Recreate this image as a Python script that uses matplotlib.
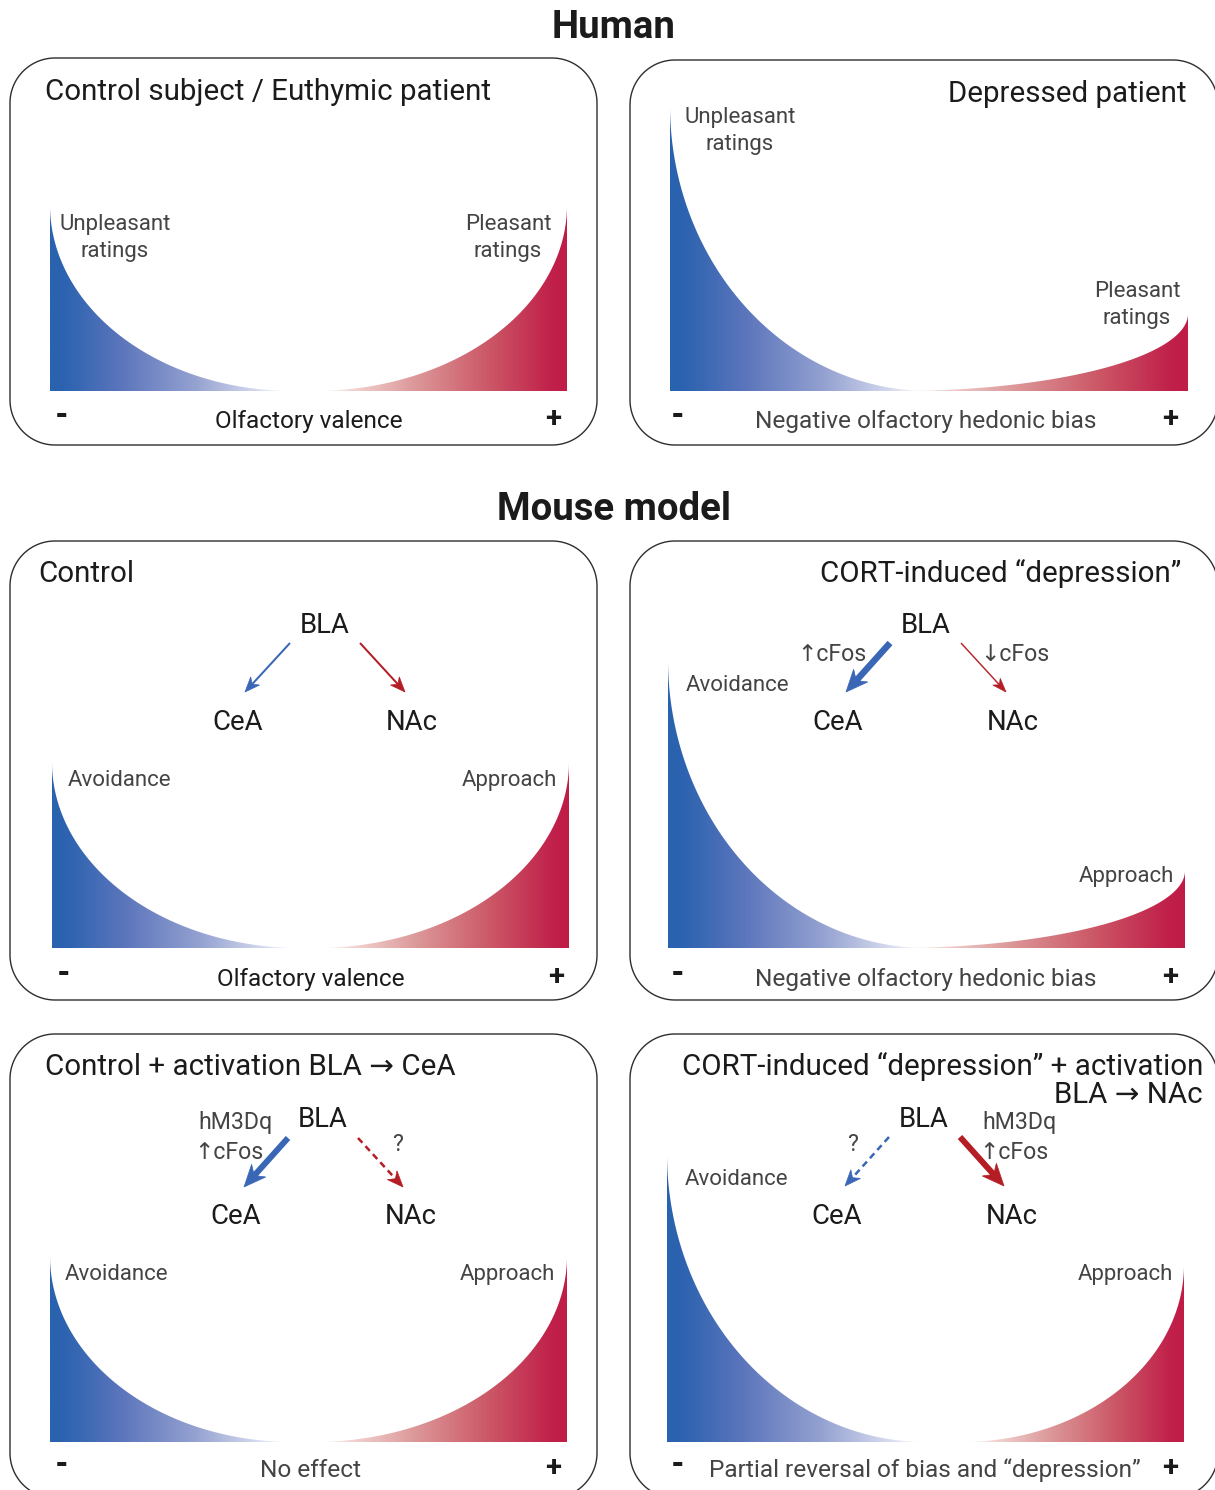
import numpy as np
import matplotlib
matplotlib.use("Agg")
import matplotlib.pyplot as plt
from matplotlib.patches import Polygon
from matplotlib.colors import LinearSegmentedColormap
from matplotlib import font_manager as fm

# ---------------- data ----------------
section_titles = ["Human", "Mouse model"]
panel_titles = ["Control subject / Euthymic patient", "Depressed patient",
                "Control", "CORT-induced \u201cdepression\u201d",
                "Control + activation BLA \u2192 CeA",
                "CORT-induced \u201cdepression\u201d + activation\nBLA \u2192 NAc"]
axis_labels = ["Olfactory valence", "Negative olfactory hedonic bias",
               "Olfactory valence", "Negative olfactory hedonic bias",
               "No effect", "Partial reversal of bias and \u201cdepression\u201d"]
left_labels = ["Unpleasant\nratings", "Unpleasant\nratings", "Avoidance", "Avoidance", "Avoidance", "Avoidance"]
right_labels = ["Pleasant\nratings", "Pleasant\nratings", "Approach", "Approach", "Approach", "Approach"]
# relative level of negative (left) and positive (right) responses, 1 = max
unpleasant_level = [0.65, 1.00, 0.65, 1.01, 0.65, 1.01]
pleasant_level = [0.65, 0.27, 0.65, 0.27, 0.65, 0.62]
# fraction of the valence axis over which each response extends
unpleasant_spread = [0.47, 0.50, 0.48, 0.50, 0.47, 0.50]
pleasant_spread = [0.49, 0.56, 0.49, 0.56, 0.49, 0.43]
regions = ["BLA", "CeA", "NAc"]

# ---------------- layout ----------------
W, H = 1215, 1490
fig = plt.figure(figsize=(W / 100, H / 100), dpi=100)
ax = fig.add_axes([0, 0, 1, 1])
ax.set_xlim(0, W)
ax.set_ylim(H, 0)
ax.axis("off")
renderer = fig.canvas.get_renderer()

names = {f.name for f in fm.fontManager.ttflist}
FONT = ["Roboto", "DejaVu Sans"] if "Roboto" in names else ["DejaVu Sans"]
NARROW = (["Liberation Sans Narrow", "DejaVu Sans"] if "Liberation Sans Narrow" in names else FONT)


def fit(s, width, **kw):
    t = ax.text(0, 0, s, fontsize=20, **kw)
    w = t.get_window_extent(renderer).width
    t.remove()
    return 20 * width / w


fs_head = fit("Mouse model", 234, family=FONT, fontweight="bold")
fs_title = fit("Control subject / Euthymic patient", 444, family=FONT)
fs_axis = fit("Olfactory valence", 188, family=FONT)
fs_axis_l = fit("Negative olfactory hedonic bias", 341, family=FONT)
fs_label = fit("Unpleasant", 111, family=FONT)
fs_region = fit("BLA", 50, family=NARROW)
fs_small = fit("hM3Dq", 74, family=FONT)

DARK = "#1b1b1b"
GREY = "#444444"

# section headers
ax.text(614, 38, section_titles[0], ha="center", va="baseline", fontsize=fs_head,
        family=FONT, fontweight="bold", color=DARK)
ax.text(614, 520, section_titles[1], ha="center", va="baseline", fontsize=fs_head,
        family=FONT, fontweight="bold", color=DARK)


def rounded_box(x0, y0, x1, y1, r):
    pts = []
    corners = [(x1 - r, y0 + r, -90, 0), (x1 - r, y1 - r, 0, 90),
               (x0 + r, y1 - r, 90, 180), (x0 + r, y0 + r, 180, 270)]
    for cx, cy, a0, a1 in corners:
        a = np.radians(np.linspace(a0, a1, 40))
        pts += list(zip(cx + r * np.cos(a), cy + r * np.sin(a)))
    ax.add_patch(Polygon(pts, closed=True, fc="none", ec="#2e2e2e", lw=1.0))


boxes = [(10, 58, 597, 445), (630, 60, 1218, 445),
         (10, 541, 597, 1000), (630, 541, 1218, 1000),
         (10, 1034, 597, 1498), (630, 1034, 1218, 1498)]
for b in boxes:
    rounded_box(*b, 45)

# curve areas: (x_left, x_right, baseline_y)
curve_areas = [(50, 567, 391), (670, 1188, 391),
               (52, 569, 948), (668, 1185, 948),
               (50, 567, 1442), (667, 1184, 1442)]
LEVEL_PX = 286

blue_cmap = LinearSegmentedColormap.from_list(
    "b", [(0, "#2962ae"), (0.06, "#2d63b0"), (0.3, "#5d76bc"), (0.6, "#95a2d1"),
          (0.85, "#d4d9ee"), (1.0, "#ffffff")])
red_cmap = LinearSegmentedColormap.from_list(
    "r", [(0, "#bf1c46"), (0.06, "#c0204a"), (0.3, "#cb5565"), (0.6, "#dc9798"),
          (0.85, "#f1d3d1"), (1.0, "#ffffff")])


def draw_curve(cax, level, spread, side):
    # quarter-ellipse response profile on valence axis [-1, 1]
    span = 2 * spread
    t = np.linspace(0, np.pi / 2, 200)
    u = 1 - np.cos(t)
    h = level * (1 - np.sin(t))
    if side == "left":
        xs = -1 + span * u
        x_lo, x_hi = -1, -1 + span
        cmap = blue_cmap
        grad = np.linspace(0, 1, 400)
    else:
        xs = 1 - span * u
        x_lo, x_hi = 1 - span, 1
        cmap = red_cmap
        grad = np.linspace(1, 0, 400)
    verts = list(zip(xs, h)) + [(xs[-1], 0), (xs[0], 0)]
    poly = Polygon(verts, closed=True, fc="none", ec="none")
    cax.add_patch(poly)
    img = cmap(grad)[None, :, :]
    im = cax.imshow(img, extent=(x_lo, x_hi, 0, level + 0.01), aspect="auto",
                    origin="lower", interpolation="bilinear")
    im.set_clip_path(poly)


for i, (xl, xr, base) in enumerate(curve_areas):
    cax = fig.add_axes([xl / W, (H - base) / H, (xr - xl) / W, LEVEL_PX * 1.05 / H])
    cax.set_xlim(-1, 1)
    cax.set_ylim(0, 1.05)
    cax.axis("off")
    draw_curve(cax, unpleasant_level[i], unpleasant_spread[i], "left")
    draw_curve(cax, pleasant_level[i], pleasant_spread[i], "right")


# ---------------- titles ----------------
def title(x, y, s, ha):
    ax.text(x, y, s, ha=ha, va="baseline", fontsize=fs_title, family=FONT, color=DARK)


title(45, 100, panel_titles[0], "left")
title(1187, 102, panel_titles[1], "right")
title(38, 582, panel_titles[2], "left")
title(1181, 582, panel_titles[3], "right")
title(45, 1075, panel_titles[4], "left")
l1, l2 = panel_titles[5].split("\n")
title(1203, 1075, l1, "right")
title(1203, 1103, l2, "right")

# ---------------- axis rows ----------------
axis_rows = [(62, 309, 553, 428), (678, 926, 1170, 428),
             (64, 311, 556, 986), (678, 926, 1170, 986),
             (62, 310, 553, 1477), (678, 925, 1170, 1477)]
for i, (xm, xc, xp, yb) in enumerate(axis_rows):
    light = i not in (0, 2)
    ax.text(xc, yb, axis_labels[i], ha="center", va="baseline",
            fontsize=fs_axis_l if light else fs_axis,
            family=FONT, color=GREY if light else DARK)
    ax.text(xm, yb - 3, "-", ha="center", va="baseline", fontsize=fs_axis * 1.25,
            family=FONT, fontweight="heavy", color=DARK)
    ax.text(xp, yb - 1, "+", ha="center", va="baseline", fontsize=fs_axis * 1.2,
            family=FONT, fontweight="bold", color=DARK)


# ---------------- curve labels ----------------
def label(x, y, s, ha):
    ax.text(x, y, s, ha=ha, va="baseline", fontsize=fs_label, family=FONT, color=GREY)


for k, line in enumerate(left_labels[0].split("\n")):
    label(115, 230 + 27 * k, line, "center")
for k, line in enumerate(right_labels[0].split("\n")):
    label(508, 230 + 27 * k, line, "center")
for k, line in enumerate(left_labels[1].split("\n")):
    label(740, 123 + 27 * k, line, "center")
for k, line in enumerate(right_labels[1].split("\n")):
    label(1137, 297 + 27 * k, line, "center")
label(68, 786, left_labels[2], "left")
label(557, 786, right_labels[2], "right")
label(686, 691, left_labels[3], "left")
label(1174, 882, right_labels[3], "right")
label(65, 1280, left_labels[4], "left")
label(555, 1280, right_labels[4], "right")
label(685, 1185, left_labels[5], "left")
label(1173, 1280, right_labels[5], "right")

# ---------------- circuit diagrams ----------------
BLUE = "#3a66b6"
RED = "#b51d25"


def region_text(x, y, s):
    ax.text(x, y, s, ha="center", va="baseline", fontsize=fs_region, family=NARROW, color=DARK)


def small(x, y, s):
    ax.text(x, y, s, ha="center", va="baseline", fontsize=fs_small, family=FONT, color=GREY)


def arrow(p0, p1, color, lw_px, head_len, head_w, dashed=False):
    p0 = np.array(p0, float)
    p1 = np.array(p1, float)
    d = (p1 - p0) / np.linalg.norm(p1 - p0)
    n = np.array([-d[1], d[0]])
    notch = p1 - d * head_len * 0.7
    base = p1 - d * head_len
    ls = (0, (2.6, 1.8)) if dashed else "-"
    ax.plot([p0[0], notch[0] + d[0]], [p0[1], notch[1] + d[1]], color=color,
            lw=lw_px / 1.389, ls=ls, solid_capstyle="butt", dash_capstyle="butt")
    ax.add_patch(Polygon([p1, base + n * head_w / 2, notch, base - n * head_w / 2],
                         closed=True, fc=color, ec=color, lw=0.5))


# diagram centres: BLA x, CeA x, NAc x, BLA baseline, CeA/NAc baseline
diagrams = [(325, 238, 412, 633, 730), (926, 838, 1013, 633, 730),
            (323, 236, 411, 1127, 1224), (924, 837, 1012, 1127, 1224)]
for (bx, cx, nx, by, ty) in diagrams:
    region_text(bx, by, regions[0])
    region_text(cx, ty, regions[1])
    region_text(nx, ty, regions[2])

# panel: Control
arrow((290, 643), (245, 692), BLUE, 2.0, 15, 12)
arrow((360, 643), (405, 692), RED, 2.0, 15, 12)
# panel: CORT
arrow((890, 643), (846, 692), BLUE, 6.5, 22, 19)
arrow((961, 643), (1006, 692), RED, 1.4, 14, 10)
small(832, 661, "\u2191cFos")
small(1015, 661, "\u2193cFos")
# panel: control + BLA->CeA
arrow((288, 1138), (244, 1187), BLUE, 6.0, 22, 19)
arrow((358, 1138), (403, 1187), RED, 2.5, 16, 13, dashed=True)
small(236, 1129, "hM3Dq")
small(229, 1159, "\u2191cFos")
small(398, 1151, "?")
# panel: CORT + BLA->NAc
arrow((889, 1137), (845, 1186), BLUE, 2.5, 16, 13, dashed=True)
arrow((960, 1137), (1004, 1186), RED, 6.0, 22, 19)
small(1020, 1129, "hM3Dq")
small(1014, 1159, "\u2191cFos")
small(853, 1151, "?")

fig.savefig("out.png", dpi=100, facecolor="white")
